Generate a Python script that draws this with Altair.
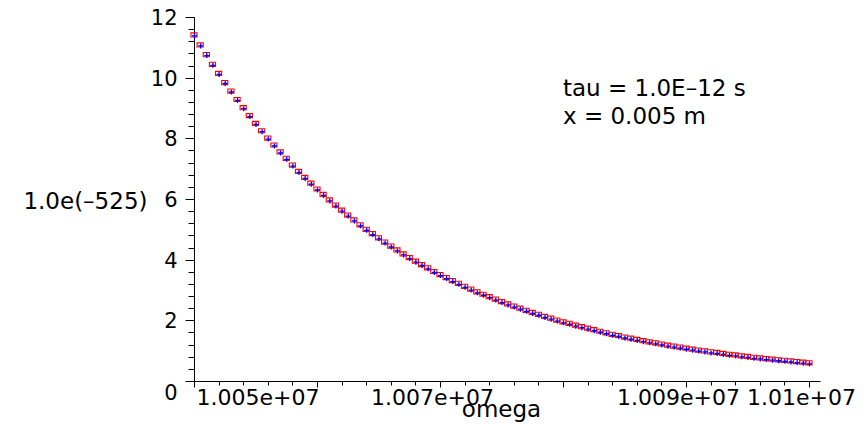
import altair as alt
import pandas as pd

# ---- data ----
omega = [
    10050000, 10050500, 10051000, 10051500, 10052000, 10052500, 10053000, 10053500, 10054000, 10054500,
    10055000, 10055500, 10056000, 10056500, 10057000, 10057500, 10058000, 10058500, 10059000, 10059500,
    10060000, 10060500, 10061000, 10061500, 10062000, 10062500, 10063000, 10063500, 10064000, 10064500,
    10065000, 10065500, 10066000, 10066500, 10067000, 10067500, 10068000, 10068500, 10069000, 10069500,
    10070000, 10070500, 10071000, 10071500, 10072000, 10072500, 10073000, 10073500, 10074000, 10074500,
    10075000, 10075500, 10076000, 10076500, 10077000, 10077500, 10078000, 10078500, 10079000, 10079500,
    10080000, 10080500, 10081000, 10081500, 10082000, 10082500, 10083000, 10083500, 10084000, 10084500,
    10085000, 10085500, 10086000, 10086500, 10087000, 10087500, 10088000, 10088500, 10089000, 10089500,
    10090000, 10090500, 10091000, 10091500, 10092000, 10092500, 10093000, 10093500, 10094000, 10094500,
    10095000, 10095500, 10096000, 10096500, 10097000, 10097500, 10098000, 10098500, 10099000, 10099500,
    10100000,
]
values = [
    11.41, 11.08, 10.76, 10.44, 10.14, 9.84, 9.56, 9.28, 9.01, 8.75,
    8.49, 8.25, 8.01, 7.78, 7.55, 7.34, 7.12, 6.91, 6.71, 6.52,
    6.33, 6.15, 5.97, 5.80, 5.63, 5.47, 5.31, 5.15, 5.00, 4.86,
    4.72, 4.58, 4.45, 4.32, 4.19, 4.07, 3.95, 3.84, 3.73, 3.61,
    3.51, 3.41, 3.31, 3.22, 3.12, 3.03, 2.94, 2.86, 2.78, 2.70,
    2.62, 2.54, 2.47, 2.40, 2.33, 2.26, 2.20, 2.13, 2.07, 2.01,
    1.95, 1.90, 1.84, 1.79, 1.74, 1.69, 1.64, 1.59, 1.54, 1.50,
    1.45, 1.41, 1.37, 1.33, 1.29, 1.26, 1.22, 1.18, 1.15, 1.12,
    1.08, 1.05, 1.02, 0.99, 0.96, 0.94, 0.91, 0.88, 0.86, 0.83,
    0.81, 0.78, 0.76, 0.74, 0.72, 0.70, 0.68, 0.66, 0.64, 0.62,
    0.60,
]

x_major_ticks = [10050000, 10060000, 10070000, 10080000, 10090000, 10100000]
x_major_labels = ["1.005e+07", "", "1.007e+07", "", "1.009e+07", "1.01e+07"]
x_minor_ticks = [10050000 + 2000 * k for k in range(26)]
y_major_ticks = [0, 2, 4, 6, 8, 10, 12]
y_minor_ticks = [round(0.4 * k, 1) for k in range(31)]

x_title = "omega"
y_title = "1.0e(–525)"
notes = ["tau = 1.0E–12 s", "x = 0.005 m"]
note_x = [10080000, 10080000]
note_y = [9.63, 8.71]

df = pd.DataFrame({"omega": omega, "value": values})
notes_df = pd.DataFrame({"text": notes, "x": note_x, "y": note_y})

FONT = "DejaVu Sans"

label_expr = " : ".join(
    f"datum.value == {v} ? '{l}'" for v, l in zip(x_major_ticks, x_major_labels)
) + " : ''"

x_scale = alt.Scale(domain=[10050000, 10100900], nice=False, zero=False)
y_scale = alt.Scale(domain=[0, 12], nice=False, zero=False)

x_major_axis = alt.Axis(
    orient="bottom", values=x_major_ticks, labelExpr=label_expr,
    tickSize=6, tickColor="black", tickWidth=1,
    domain=True, domainColor="black", domainWidth=1,
    grid=False, labelFont=FONT, labelFontSize=22, labelColor="black",
    labelPadding=0, labelFlush=False, labelOverlap=False, labelBound=False,
    labelAlign={"condition": {"test": "datum.value == 10050000", "value": "left"}, "value": "center"},
    labelOffset={"condition": {"test": "datum.value == 10050000", "value": 2}, "value": -8},
    labelBaseline="top",
    title=x_title, titleFont=FONT, titleFontSize=23, titleFontWeight="normal",
    titleColor="black", titleBaseline="alphabetic", titleY=35, titleX=307,
)
y_major_axis = alt.Axis(
    orient="left", values=y_major_ticks,
    tickSize=9, tickColor="black", tickWidth=1,
    domain=True, domainColor="black", domainWidth=1,
    grid=False, labelFont=FONT, labelFontSize=21, labelColor="black",
    labelPadding=8, labelFlush=False, labelOverlap=False, labelBound=False,
    labelOffset=1.5,
    labelBaseline={"condition": {"test": "datum.value == 0", "value": "top"}, "value": "middle"},
    title=y_title, titleFont=FONT, titleFontSize=23, titleFontWeight="normal",
    titleColor="black", titleAngle=0, titleAlign="right", titleBaseline="middle",
    titleX=-47, titleY=184,
)
x_minor_axis = alt.Axis(
    orient="bottom", values=x_minor_ticks, labels=False, tickSize=4,
    tickColor="black", tickWidth=1, domain=False, grid=False, title=None,
)
y_minor_axis = alt.Axis(
    orient="left", values=y_minor_ticks, labels=False, tickSize=6,
    tickColor="black", tickWidth=1, domain=False, grid=False, title=None,
)

boxes = alt.Chart(df).mark_point(
    shape="M-1,-0.67H1V0.67H-1Z", filled=False, stroke="#ff0000",
    strokeWidth=1.1, size=38, opacity=1,
).encode(
    x=alt.X("omega:Q", scale=x_scale, axis=x_major_axis),
    y=alt.Y("value:Q", scale=y_scale, axis=y_major_axis),
)

crosses = alt.Chart(df).mark_point(
    shape="M-1,0H1M0,-1V1", filled=False, stroke="#0000ff",
    strokeWidth=1.3, size=25, opacity=1, xOffset=0.5, yOffset=1,
).encode(
    x=alt.X("omega:Q", scale=x_scale, axis=x_minor_axis),
    y=alt.Y("value:Q", scale=y_scale, axis=y_minor_axis),
)

texts = alt.Chart(notes_df).mark_text(
    align="left", baseline="middle", font=FONT, fontSize=23, color="black",
).encode(
    x=alt.X("x:Q", scale=x_scale, axis=None),
    y=alt.Y("y:Q", scale=y_scale, axis=None),
    text="text:N",
)

chart = (
    alt.layer(boxes, crosses, texts)
    .resolve_axis(x="independent", y="independent")
    .properties(
        width=626, height=364,
        autosize=alt.AutoSizeParams(type="none"),
        padding={"left": 186, "top": 9, "right": 38, "bottom": 42},
        background="white",
    )
    .configure_view(stroke=None)
)

chart.save("out.html", embed_options={"renderer": "svg", "actions": False})
